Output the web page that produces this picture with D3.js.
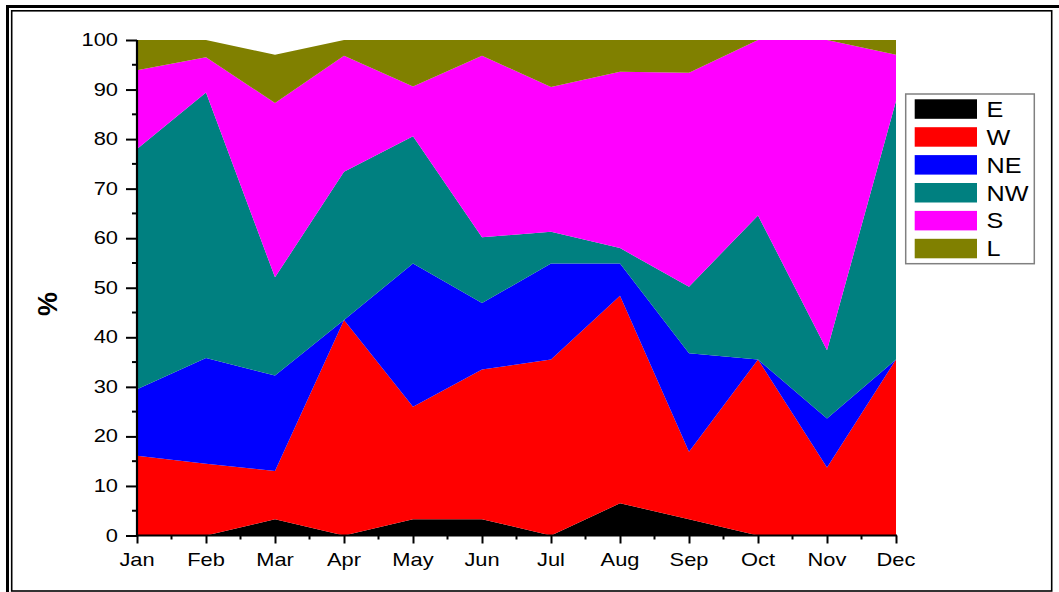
<!DOCTYPE html>
<html><head><meta charset="utf-8">
<script src="https://cdn.jsdelivr.net/npm/d3@7"></script>
<style>html,body{margin:0;padding:0;background:#fff;}svg{display:block;}</style>
</head><body>
<script>
const months = ["Jan","Feb","Mar","Apr","May","Jun","Jul","Aug","Sep","Oct","Nov","Dec"];
const seriesNames = ["E","W","NE","NW","S","L"];
const seriesColors = ["#000000","#ff0000","#0000ff","#008080","#ff00ff","#808000"];
const E  = [0,0,3.3,0,3.3,3.3,0,6.5,3.3,0,0,0];
const W  = [16.1,14.5,9.7,43.5,22.7,30.2,35.5,41.9,13.6,35.5,13.7,35.5];
const NE = [13.4,21.3,19.3,0,28.9,13.4,19.4,6.5,19.9,0,9.9,0];
const NW = [48.5,53.6,19.8,29.9,25.7,13.3,6.4,3.1,13.4,29.1,13.8,52.2];
const S  = [15.9,7.1,35.2,23.4,10.0,36.6,29.2,35.6,43.2,35.4,62.6,9.3];
const L  = [6.1,3.5,9.7,3.2,9.4,3.2,9.5,6.4,6.6,0,0,3.0];
const yTicks = [0,10,20,30,40,50,60,70,80,90,100];
const yLabel = "%";

const seriesValues = {E, W, NE, NW, S, L};
const table = months.map((m,i)=>{const o={month:m}; seriesNames.forEach(s=>o[s]=seriesValues[s][i]); return o;});

const width = 1059, height = 592;
const svg = d3.select("body").append("svg").attr("width",width).attr("height",height);
svg.append("rect").attr("width",width).attr("height",height).attr("fill","#fff");

// frame
svg.append("rect").attr("x",7.5).attr("y",6.5).attr("width",1060).attr("height",600)
  .attr("fill","none").attr("stroke","#000").attr("stroke-width",3);
svg.append("rect").attr("x",11.7).attr("y",10.8).attr("width",1040).attr("height",580.2)
  .attr("fill","none").attr("stroke","#000").attr("stroke-width",1.6);

const x = d3.scalePoint().domain(months).range([137,896]);
const y = d3.scaleLinear().domain([0,100]).range([535.5,40]);

const stack = d3.stack().keys(seriesNames);
const layers = stack(table);
const area = d3.area().x(d=>x(d.data.month)).y0(d=>y(d[0])).y1(d=>y(d[1]));

svg.append("g").selectAll("path").data(layers).join("path")
  .attr("d",area).attr("fill",(d,i)=>seriesColors[i]);

const stretchText = (g, tx, ty, text, size, sx, anchor, weight) => {
  g.append("text").attr("transform",`translate(${tx},${ty}) scale(${sx},1)`)
    .attr("text-anchor",anchor).attr("font-family","Liberation Sans, Arial, sans-serif")
    .attr("font-size",size).attr("font-weight",weight||"normal").attr("fill","#000").text(text);
};

// y axis
const yAxis = d3.axisLeft(y).tickValues(yTicks).tickSize(11).tickFormat("");
const gy = svg.append("g").attr("transform","translate(137,0)").call(yAxis);
gy.select(".domain").remove();
gy.selectAll(".tick line").attr("stroke","#000").attr("stroke-width",2);
const yMinor = d3.range(5,100,10);
gy.selectAll(".minor").data(yMinor).join("line").attr("class","minor")
  .attr("x1",-5).attr("x2",0).attr("y1",d=>y(d)).attr("y2",d=>y(d)).attr("stroke","#000").attr("stroke-width",2);
yTicks.forEach(t=>stretchText(svg,118,y(t)+6,String(t),17.5,1.25,"end"));

// x axis
const xAxis = d3.axisBottom(x).tickSize(8).tickFormat("");
const gx = svg.append("g").attr("transform","translate(0,535.5)").call(xAxis);
gx.select(".domain").remove();
gx.selectAll(".tick line").attr("stroke","#000").attr("stroke-width",2);
const xMinor = months.slice(0,-1).map((m,i)=>(x(m)+x(months[i+1]))/2);
gx.selectAll(".minor").data(xMinor).join("line").attr("class","minor")
  .attr("x1",d=>d).attr("x2",d=>d).attr("y1",0).attr("y2",4).attr("stroke","#000").attr("stroke-width",2);
months.forEach(m=>stretchText(svg,x(m),566,m,17.5,1.25,"middle"));

// axis lines
svg.append("line").attr("x1",137).attr("x2",137).attr("y1",40).attr("y2",536.5).attr("stroke","#000").attr("stroke-width",2.2);
svg.append("line").attr("x1",136).attr("x2",897).attr("y1",535.5).attr("y2",535.5).attr("stroke","#000").attr("stroke-width",2.2);

// y label
svg.append("text").attr("transform","translate(57,304) rotate(-90)").attr("text-anchor","middle")
  .attr("font-family","Liberation Sans, Arial, sans-serif").attr("font-size",27).attr("font-weight","bold").text(yLabel);

// legend
const lg = svg.append("g");
lg.append("rect").attr("x",905.7).attr("y",94).attr("width",128.6).attr("height",169.7)
  .attr("fill","#fff").attr("stroke","#808080").attr("stroke-width",1.5);
seriesNames.forEach((s,i)=>{
  const yy = 99.3 + i*27.9;
  lg.append("rect").attr("x",914.7).attr("y",yy).attr("width",62.3).attr("height",19.5).attr("fill",seriesColors[i]);
  stretchText(lg,986.5,yy+17.5,s,22.5,1.12,"start");
});
</script>
</body></html>
